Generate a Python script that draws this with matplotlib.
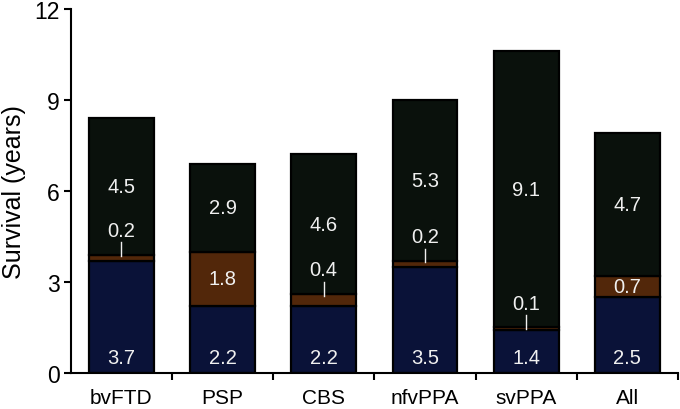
import matplotlib.pyplot as plt

plt.rcParams['font.family'] = ['Liberation Sans', 'DejaVu Sans']

groups = ['bvFTD', 'PSP', 'CBS', 'nfvPPA', 'svPPA', 'All']
first = [3.7, 2.2, 2.2, 3.5, 1.4, 2.5]
second = [0.2, 1.8, 0.4, 0.2, 0.1, 0.7]
third = [4.5, 2.9, 4.6, 5.3, 9.1, 4.7]

navy = '#0a1238'
brown = '#52270a'
dark = '#0a110c'
txt = '#f0f0f0'

fig = plt.figure(figsize=(6.8, 4.1), dpi=100)
ax = fig.add_axes([0.104, 0.088, 0.893, 0.888])

x = range(len(groups))
w = 0.64
kw = dict(width=w, edgecolor='black', linewidth=1.6)
ax.bar(x, first, color=navy, **kw)
ax.bar(x, second, bottom=first, color=brown, **kw)
mid = [a + b for a, b in zip(first, second)]
ax.bar(x, third, bottom=mid, color=dark, **kw)

fs = 14.5
for i in x:
    ax.text(i, 0.52, f'{first[i]:.1f}', ha='center', va='center', color=txt, fontsize=fs)
    if second[i] >= 0.6:
        ax.text(i, first[i] + second[i] / 2, f'{second[i]:.1f}', ha='center', va='center',
                color=txt, fontsize=fs)
    else:
        # small slice: label sits above with a short leader line
        ax.plot([i, i], [mid[i] - 0.05, mid[i] + 0.4], color=txt, lw=1)
        ax.text(i, mid[i] + 0.8, f'{second[i]:.1f}', ha='center', va='center', color=txt, fontsize=fs)
    ax.text(i, mid[i] + third[i] / 2, f'{third[i]:.1f}', ha='center', va='center', color=txt, fontsize=fs)

ax.set_xlim(-0.5, len(groups) - 0.5)
ax.set_ylim(0, 12)
ax.set_yticks([0, 3, 6, 9, 12])
ax.set_xticks([i + 0.5 for i in x])
ax.set_xticklabels([])
ax.set_xticks(list(x), minor=True)
ax.set_xticklabels(groups, minor=True)
ax.tick_params(axis='x', which='minor', length=0, pad=11, labelsize=15)
ax.tick_params(axis='x', which='major', direction='out', length=5, width=1.5)
ax.tick_params(axis='y', direction='out', length=5, width=1.5, labelsize=16.5, pad=3)
ax.set_ylabel('Survival (years)', fontsize=18, labelpad=6)

for s in ['top', 'right']:
    ax.spines[s].set_visible(False)
for s in ['left', 'bottom']:
    ax.spines[s].set_linewidth(1.5)

fig.savefig('out.png', dpi=100)
